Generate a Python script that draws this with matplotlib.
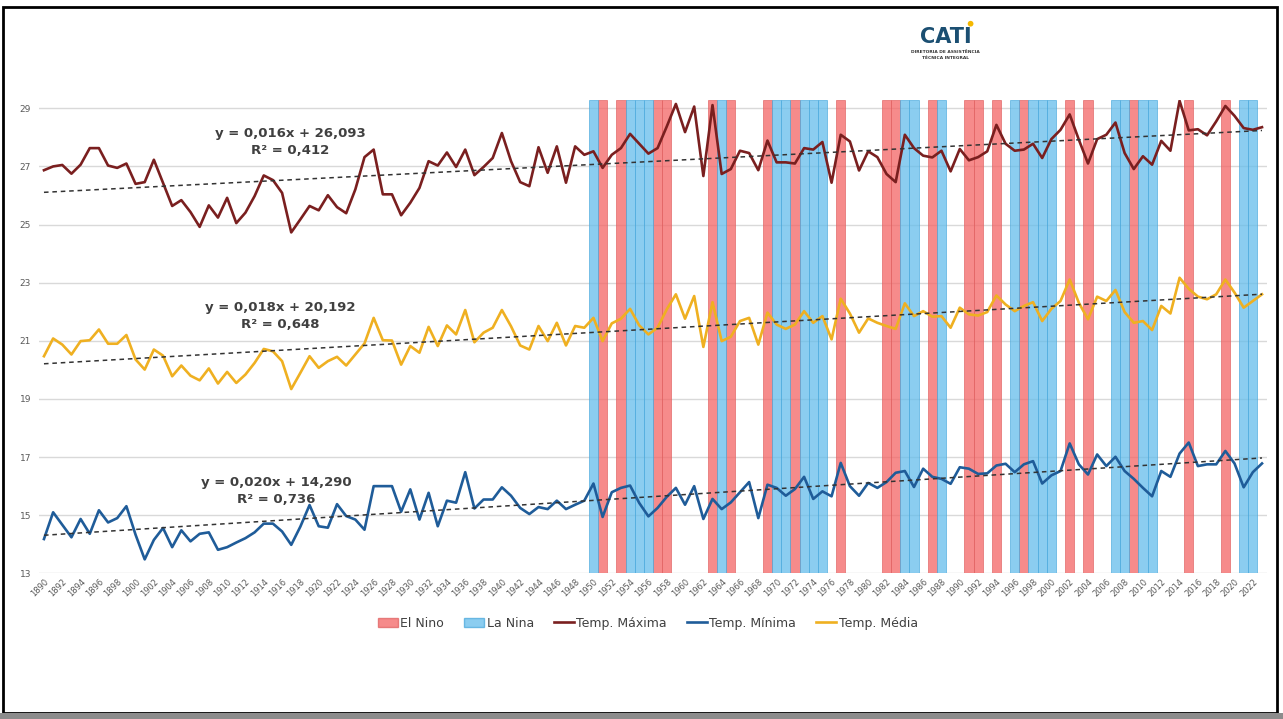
import numpy as np
import matplotlib.pyplot as plt
from matplotlib.patches import Rectangle, Patch, Ellipse
from matplotlib.lines import Line2D

# Séries anuais 1890-2023 (°C)
years = np.arange(1890, 2024)

temp_max = [
    26.87, 27.00, 27.05, 26.75, 27.06, 27.63, 27.63, 27.03, 26.95, 27.10,
    26.40, 26.46, 27.23, 26.44, 25.64, 25.84, 25.43, 24.92, 25.66, 25.24,
    25.92, 25.05, 25.41, 25.98, 26.69, 26.53, 26.09, 24.73, 25.18, 25.64,
    25.49, 26.01, 25.60, 25.39, 26.21, 27.32, 27.58, 26.04, 26.04, 25.32,
    25.75, 26.26, 27.18, 27.03, 27.48, 26.98, 27.58, 26.70, 26.98, 27.29,
    28.15, 27.18, 26.46, 26.32, 27.66, 26.78, 27.69, 26.44, 27.69, 27.40,
    27.52, 26.95, 27.40, 27.63, 28.12, 27.78, 27.44, 27.63, 28.37, 29.15,
    28.18, 29.06, 26.67, 29.11, 26.74, 26.91, 27.54, 27.46, 26.87, 27.89,
    27.14, 27.14, 27.10, 27.63, 27.58, 27.84, 26.44, 28.09, 27.86, 26.86,
    27.52, 27.32, 26.74, 26.46, 28.09, 27.63, 27.37, 27.31, 27.54, 26.83,
    27.60, 27.21, 27.32, 27.52, 28.43, 27.78, 27.54, 27.58, 27.78, 27.29,
    27.94, 28.26, 28.79, 27.92, 27.10, 27.94, 28.09, 28.51, 27.46, 26.91,
    27.35, 27.06, 27.88, 27.54, 29.26, 28.24, 28.28, 28.07, 28.55, 29.08,
    28.74, 28.32, 28.26, 28.35,
]

temp_min = [
    14.18, 15.10, 14.67, 14.24, 14.87, 14.36, 15.17, 14.75, 14.90, 15.31,
    14.33, 13.48, 14.15, 14.56, 13.90, 14.48, 14.10, 14.36, 14.41, 13.81,
    13.90, 14.06, 14.21, 14.41, 14.71, 14.71, 14.44, 13.98, 14.61, 15.35,
    14.62, 14.57, 15.38, 14.97, 14.85, 14.50, 16.00, 16.00, 16.00, 15.12,
    15.89, 14.85, 15.77, 14.62, 15.50, 15.43, 16.48, 15.23, 15.54, 15.54,
    15.96, 15.67, 15.25, 15.04, 15.28, 15.21, 15.50, 15.21, 15.36, 15.50,
    16.09, 14.94, 15.79, 15.94, 16.02, 15.42, 14.96, 15.25, 15.63, 15.94,
    15.36, 16.00, 14.87, 15.56, 15.21, 15.44, 15.79, 16.14, 14.90, 16.05,
    15.94, 15.67, 15.90, 16.32, 15.56, 15.82, 15.65, 16.80, 16.00, 15.67,
    16.11, 15.94, 16.14, 16.46, 16.52, 15.97, 16.60, 16.32, 16.25, 16.08,
    16.65, 16.60, 16.42, 16.44, 16.71, 16.77, 16.48, 16.75, 16.86, 16.09,
    16.37, 16.52, 17.47, 16.75, 16.40, 17.09, 16.69, 17.01, 16.52, 16.25,
    15.94, 15.65, 16.52, 16.32, 17.12, 17.50, 16.69, 16.75, 16.75, 17.21,
    16.78, 15.96, 16.48, 16.78,
]

temp_med = [
    20.47, 21.08, 20.87, 20.53, 20.99, 21.02, 21.39, 20.90, 20.90, 21.20,
    20.36, 20.01, 20.70, 20.49, 19.78, 20.15, 19.80, 19.64, 20.05, 19.53,
    19.93, 19.55, 19.84, 20.24, 20.72, 20.64, 20.30, 19.34, 19.90, 20.47,
    20.07, 20.30, 20.45, 20.15, 20.53, 20.91, 21.79, 21.02, 21.01, 20.18,
    20.82, 20.59, 21.48, 20.82, 21.53, 21.22, 22.06, 20.95, 21.28, 21.45,
    22.06, 21.50, 20.84, 20.70, 21.51, 20.99, 21.62, 20.84, 21.51, 21.45,
    21.79, 20.99, 21.60, 21.76, 22.10, 21.53, 21.22, 21.45, 22.08, 22.60,
    21.76, 22.54, 20.79, 22.33, 20.99, 21.14, 21.68, 21.79, 20.87, 21.97,
    21.56, 21.41, 21.56, 22.02, 21.62, 21.85, 21.05, 22.45, 21.94, 21.28,
    21.77, 21.62, 21.51, 21.41, 22.29, 21.85, 22.02, 21.83, 21.85, 21.45,
    22.14, 21.91, 21.87, 21.99, 22.56, 22.25, 22.02, 22.20, 22.33, 21.68,
    22.10, 22.37, 23.11, 22.31, 21.74, 22.52, 22.37, 22.75, 21.99, 21.62,
    21.68, 21.37, 22.20, 21.94, 23.17, 22.79, 22.52, 22.43, 22.60, 23.11,
    22.66, 22.14, 22.37, 22.60,
]

el_nino = [1951, 1953, 1957, 1958, 1963, 1965, 1969, 1972, 1977, 1982, 1983,
           1987, 1991, 1992, 1994, 1997, 2002, 2004, 2009, 2015, 2019]
la_nina = [1950, 1954, 1955, 1956, 1964, 1970, 1971, 1973, 1974, 1975, 1984,
           1985, 1988, 1996, 1998, 1999, 2000, 2007, 2008, 2010, 2011, 2021, 2022]

# Tendências lineares (x = 1, 2, ... n)
trends = [
    (0.016, 26.093, 0.412, 1916.9, 28.15),
    (0.018, 20.192, 0.648, 1915.8, 22.16),
    (0.020, 14.290, 0.736, 1915.4, 16.14),
]

C_MAX = "#7a1f1f"
C_MIN = "#1f5c99"
C_MED = "#efb021"
C_NINO = "#f46464"
C_NINA = "#64bdeb"
Y_MIN, Y_MAX = 13, 29.3

fig = plt.figure(figsize=(12.83, 7.19), dpi=100)
ax = fig.add_axes([0.0307, 0.2026, 0.9565, 0.6589])

ax.set_ylim(Y_MIN, Y_MAX)
ax.set_xlim(1889.5, 2023.5)

# Anos de El Niño / La Niña como colunas de fundo
ax.bar(el_nino, Y_MAX - Y_MIN, bottom=Y_MIN, width=1.0, color=C_NINO, alpha=0.75,
       edgecolor="#e06060", linewidth=0.6, zorder=1)
ax.bar(la_nina, Y_MAX - Y_MIN, bottom=Y_MIN, width=1.0, color=C_NINA, alpha=0.75,
       edgecolor="#4aa8dc", linewidth=0.6, zorder=1)

ax.plot(years, temp_max, color=C_MAX, lw=1.9, zorder=3)
ax.plot(years, temp_min, color=C_MIN, lw=1.9, zorder=3)
ax.plot(years, temp_med, color=C_MED, lw=1.9, zorder=3)

idx = np.arange(1, len(years) + 1)
for a, b, r2, tx, ty in trends:
    ax.plot(years, a * idx + b, color="#333333", lw=1.1, ls=(0, (3, 2.5)), zorder=4)
    eq = f"y = {a:.3f}x + {b:.3f}".replace(".", ",")
    ax.text(tx, ty, eq, ha="center", va="center", fontsize=9.5,
            color="#404040", fontweight="semibold", zorder=5)
    ax.text(tx, ty - 0.6, f"R² = {r2:.3f}".replace(".", ","), ha="center",
            va="center", fontsize=9.5, color="#404040", fontweight="semibold", zorder=5)

ax.set_yticks(np.arange(13, 30, 2))
ax.set_xticks(np.arange(1890, 2024, 2))
ax.set_xticklabels([str(y) for y in range(1890, 2024, 2)], rotation=45,
                   ha="right", rotation_mode="anchor", fontsize=6, color="#595959")
ax.tick_params(axis="y", labelsize=6.5, colors="#595959", length=0, pad=6)
ax.tick_params(axis="x", length=0, pad=3)
ax.grid(axis="y", color="#d9d9d9", lw=1.0, zorder=0)
ax.set_axisbelow(True)
for s in ax.spines.values():
    s.set_visible(False)

handles = [
    Patch(facecolor=C_NINO, alpha=0.75, edgecolor="#e06060", label="El Nino"),
    Patch(facecolor=C_NINA, alpha=0.75, edgecolor="#4aa8dc", label="La Nina"),
    Line2D([], [], color=C_MAX, lw=1.9, label="Temp. Máxima"),
    Line2D([], [], color=C_MIN, lw=1.9, label="Temp. Mínima"),
    Line2D([], [], color=C_MED, lw=1.9, label="Temp. Média"),
]
fig.legend(handles=handles, loc="center", bbox_to_anchor=(0.505, 0.133), ncol=5,
           frameon=False, fontsize=9, labelcolor="#404040", handlelength=1.6,
           handletextpad=0.2, columnspacing=1.6)

# Logo CATI
fig.text(0.737, 0.948, "CATI", ha="center", va="center", fontsize=15,
         fontweight="bold", color="#1b4f72")
fig.patches.append(Ellipse((0.7565, 0.967), 0.0045, 0.008, transform=fig.transFigure,
                           facecolor="#f5b800", edgecolor="none"))
fig.text(0.737, 0.928, "DIRETORIA DE ASSISTÊNCIA", ha="center", va="center",
         fontsize=3.2, fontweight="bold", color="#333333")
fig.text(0.737, 0.919, "TÉCNICA INTEGRAL", ha="center", va="center",
         fontsize=3.2, fontweight="bold", color="#333333")

# Moldura
fig.patches.append(Rectangle((0.0023, 0.009), 0.9930, 0.981, transform=fig.transFigure,
                             fill=False, edgecolor="black", lw=2))
fig.patches.append(Rectangle((0.0, 0.0), 1.0, 0.008, transform=fig.transFigure,
                             facecolor="#8c8c8c", edgecolor="none"))

fig.savefig("out.png", dpi=100)
